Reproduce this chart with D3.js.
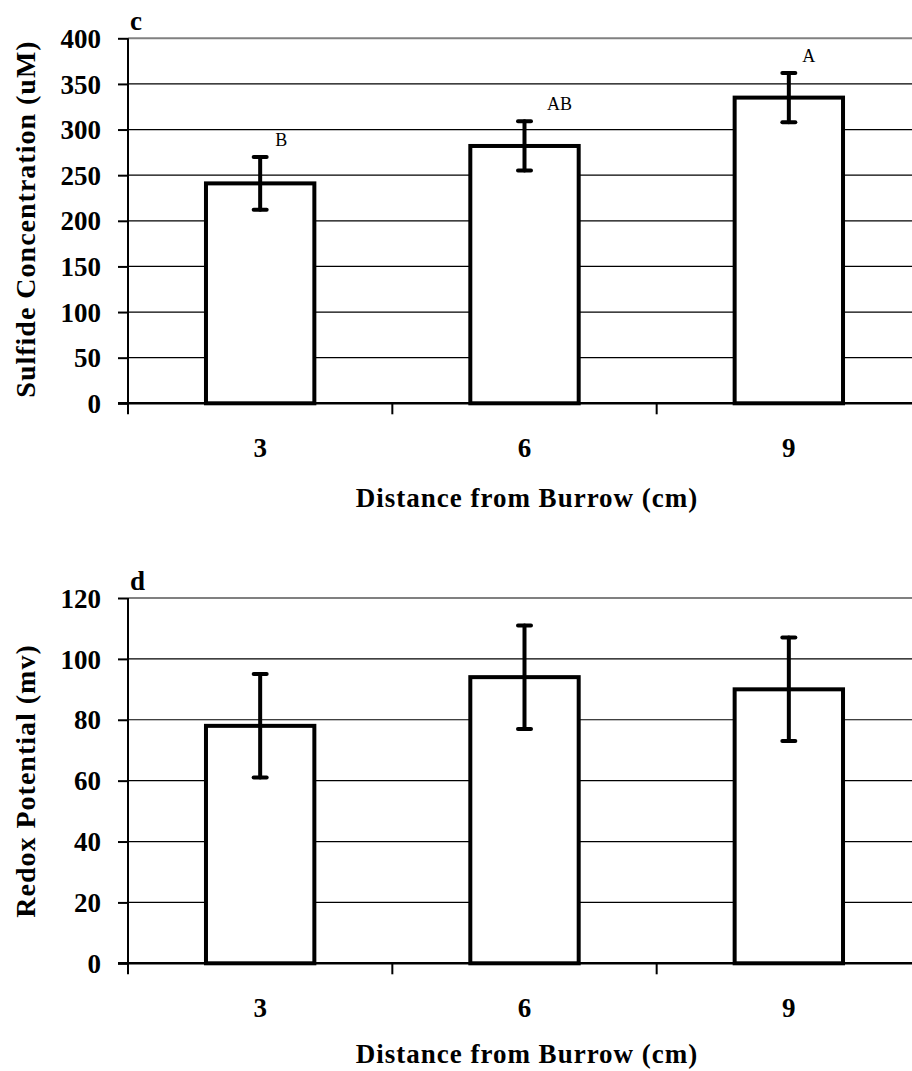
<!DOCTYPE html>
<html>
<head>
<meta charset="utf-8">
<script src="https://cdn.jsdelivr.net/npm/d3@7"></script>
<style>
  html, body { margin: 0; padding: 0; background: #fff; }
  svg { display: block; }
</style>
</head>
<body>
<svg id="chart" width="912" height="1071"></svg>
<script>
// Shared categories: distance from the burrow (cm)
const distances = ["3", "6", "9"];

// Panel c: sulfide concentration (uM), mean and standard error
const sulfideMeans = [241, 282, 335];
const sulfideErrors = [29, 27, 27];
const sulfideLetters = ["B", "AB", "A"];
const sulfideTicks = [0, 50, 100, 150, 200, 250, 300, 350, 400];

// Panel d: redox potential (mv), mean and standard error
const redoxMeans = [78, 94, 90];
const redoxErrors = [17, 17, 17];
const redoxTicks = [0, 20, 40, 60, 80, 100, 120];

const svg = d3.select("#chart");
const serif = "'Liberation Serif', 'Times New Roman', serif";

const left = 128, right = 921;
const x = d3.scaleBand().domain(distances).range([left, right]).padding(0);
const barFrac = 0.41;
// horizontal nudges for the significance letters
const letterNudge = [21, 35, 20];

function drawPanel(opts) {
  const { top, bottom, ticks, means, errors, letters, panelLetter, yTitle } = opts;
  const y = d3.scaleLinear().domain([0, d3.max(ticks)]).range([bottom, top]);
  const g = svg.append("g");

  // horizontal gridlines
  g.selectAll("line.grid").data(ticks.filter(t => t > 0)).join("line")
    .attr("class", "grid")
    .attr("x1", left).attr("x2", right)
    .attr("y1", d => y(d)).attr("y2", d => y(d))
    .attr("stroke", d => d === d3.max(ticks) ? "#808080" : "#000")
    .attr("stroke-width", d => d === d3.max(ticks) ? 2 : 1.2);

  // y axis
  const yAxis = d3.axisLeft(y).tickValues(ticks).tickSize(10).tickPadding(17);
  const ya = g.append("g").attr("transform", `translate(${left},0)`).call(yAxis);
  ya.select(".domain").remove();
  ya.selectAll(".tick line").attr("stroke", "#000").attr("stroke-width", 2);
  ya.selectAll(".tick text")
    .attr("font-family", serif).attr("font-weight", "bold")
    .attr("font-size", 27).attr("fill", "#000").attr("dy", "0.34em");
  g.append("line")
    .attr("x1", left).attr("x2", left)
    .attr("y1", y(d3.max(ticks))).attr("y2", bottom + 11)
    .attr("stroke", "#000").attr("stroke-width", 2);

  // x axis baseline and category ticks
  g.append("line")
    .attr("x1", left - 10).attr("x2", right)
    .attr("y1", bottom).attr("y2", bottom)
    .attr("stroke", "#000").attr("stroke-width", 2.5);
  g.selectAll("line.xtick").data(distances.slice(1)).join("line")
    .attr("class", "xtick")
    .attr("x1", d => x(d)).attr("x2", d => x(d))
    .attr("y1", bottom).attr("y2", bottom + 11)
    .attr("stroke", "#000").attr("stroke-width", 2);
  g.selectAll("text.xlab").data(distances).join("text")
    .attr("class", "xlab")
    .attr("x", d => x(d) + x.bandwidth() / 2)
    .attr("y", bottom + 45)
    .attr("dominant-baseline", "central")
    .attr("text-anchor", "middle")
    .attr("font-family", serif).attr("font-weight", "bold")
    .attr("font-size", 27).text(d => d);

  // bars
  const bw = x.bandwidth() * barFrac;
  const cx = d => x(d) + x.bandwidth() / 2;
  g.selectAll("rect.bar").data(distances).join("rect")
    .attr("class", "bar")
    .attr("x", d => cx(d) - bw / 2)
    .attr("width", bw)
    .attr("y", (d, i) => y(means[i]))
    .attr("height", (d, i) => bottom - y(means[i]))
    .attr("fill", "#fff").attr("stroke", "#000").attr("stroke-width", 4);

  // error bars
  const eb = g.selectAll("g.err").data(distances).join("g").attr("class", "err");
  eb.append("line")
    .attr("x1", d => cx(d)).attr("x2", d => cx(d))
    .attr("y1", (d, i) => y(means[i] + errors[i]))
    .attr("y2", (d, i) => y(means[i] - errors[i]));
  eb.append("line")
    .attr("x1", d => cx(d) - 6.5).attr("x2", d => cx(d) + 6.5)
    .attr("y1", (d, i) => y(means[i] + errors[i]))
    .attr("y2", (d, i) => y(means[i] + errors[i]));
  eb.append("line")
    .attr("x1", d => cx(d) - 6.5).attr("x2", d => cx(d) + 6.5)
    .attr("y1", (d, i) => y(means[i] - errors[i]))
    .attr("y2", (d, i) => y(means[i] - errors[i]));
  eb.selectAll("line").attr("stroke", "#000").attr("stroke-width", 4)
    .attr("stroke-linecap", "round");

  // significance letters
  if (letters) {
    g.selectAll("text.sig").data(distances).join("text")
      .attr("class", "sig")
      .attr("x", (d, i) => cx(d) + letterNudge[i])
      .attr("y", (d, i) => y(means[i] + errors[i]) - 11)
      .attr("text-anchor", "middle")
      .attr("font-family", serif).attr("font-size", 18)
      .text((d, i) => letters[i]);
  }

  // panel letter
  g.append("text")
    .attr("x", 130).attr("y", top - 8)
    .attr("font-family", serif).attr("font-weight", "bold")
    .attr("font-size", 27).text(panelLetter);

  // axis titles
  g.append("text")
    .attr("x", 527).attr("y", bottom + opts.xTitleOffset)
    .attr("dominant-baseline", "central").attr("text-anchor", "middle")
    .attr("font-family", serif).attr("font-weight", "bold")
    .attr("font-size", 27).attr("letter-spacing", 1)
    .text("Distance from Burrow (cm)");
  g.append("text")
    .attr("transform", `translate(25,${opts.yTitleCenter}) rotate(-90)`)
    .attr("dominant-baseline", "central").attr("text-anchor", "middle")
    .attr("font-family", serif).attr("font-weight", "bold")
    .attr("font-size", 28).attr("letter-spacing", 1)
    .text(yTitle);
}

drawPanel({
  top: 38.3, bottom: 403.3, ticks: sulfideTicks,
  means: sulfideMeans, errors: sulfideErrors, letters: sulfideLetters,
  panelLetter: "c", yTitle: "Sulfide Concentration (uM)", yTitleCenter: 219,
  xTitleOffset: 95
});

drawPanel({
  top: 598, bottom: 963.3, ticks: redoxTicks,
  means: redoxMeans, errors: redoxErrors, letters: null,
  panelLetter: "d", yTitle: "Redox Potential (mv)", yTitleCenter: 781,
  xTitleOffset: 91
});
</script>
</body>
</html>
